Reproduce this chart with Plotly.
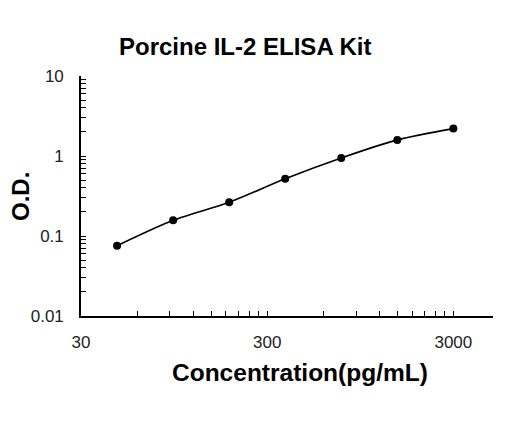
import plotly.graph_objects as go

# standard curve data
conc = [46.875, 93.75, 187.5, 375, 750, 1500, 3000]
od = [0.0755, 0.157, 0.264, 0.519, 0.944, 1.59, 2.20]

x_ticks = [30, 300, 3000]
x_minor = [30 * k for k in range(2, 10)] + [300 * k for k in range(2, 10)]
y_ticks = [0.01, 0.1, 1, 10]
y_minor = [k * 10 ** e for e in (-2, -1, 0) for k in range(2, 10)]

# the page body adds 8px, so the figure is drawn 8px smaller and shifted
OFF = 8
W, H = 520 - OFF, 421 - OFF
ml, mr, mt, mb = 81 - OFF, 27, 76 - OFF, 105
pw, ph = W - ml - mr, H - mt - mb


def px(xp):
    return (xp - OFF - ml) / pw


def py(yp):
    return 1 - (yp - OFF - mt) / ph


fig = go.Figure()
fig.add_trace(go.Scatter(
    x=conc, y=od, mode="lines+markers",
    line=dict(color="black", width=1.6, shape="spline", smoothing=0.8),
    marker=dict(color="black", size=8),
    showlegend=False,
))

axis_font = dict(family="Liberation Sans, Arial", size=17, color="#222")
bold = dict(family="Liberation Sans, Arial", size=24, color="black")

fig.update_xaxes(
    type="log", range=[1.4771, 3.69], automargin=False,
    tickmode="array", tickvals=x_ticks, ticktext=[str(v) for v in x_ticks],
    ticks="inside", ticklen=5, tickwidth=1.3, tickcolor="black",
    minor=dict(tickmode="array", tickvals=x_minor, ticks="inside", ticklen=5,
               tickwidth=1.3, tickcolor="black", showgrid=False),
    showline=True, linecolor="black", linewidth=1.6,
    showgrid=False, zeroline=False,
    tickfont=axis_font, ticklabelstandoff=10,
)
fig.update_yaxes(
    type="log", range=[-2, 1], automargin=False,
    tickmode="array", tickvals=y_ticks, ticktext=["0.01", "0.1", "1", "10"],
    ticks="inside", ticklen=5, tickwidth=1.3, tickcolor="black",
    minor=dict(tickmode="array", tickvals=y_minor, ticks="inside", ticklen=5,
               tickwidth=1.3, tickcolor="black", showgrid=False),
    showline=True, linecolor="black", linewidth=1.6,
    showgrid=False, zeroline=False,
    tickfont=axis_font, ticklabelstandoff=12,
)

fig.update_layout(
    width=W, height=H,
    margin=dict(l=ml, r=mr, t=mt, b=mb, autoexpand=False),
    plot_bgcolor="white", paper_bgcolor="white",
    annotations=[
        dict(text="<b>Porcine IL-2 ELISA Kit</b>", xref="paper", yref="paper",
             x=px(245), y=py(46), xanchor="center", yanchor="middle",
             showarrow=False, font=bold),
        dict(text="<b>Concentration(pg/mL)</b>", xref="paper", yref="paper",
             x=px(300), y=py(372), xanchor="center", yanchor="middle",
             showarrow=False, font=dict(bold, size=24.5)),
        dict(text="<b>O.D.</b>", xref="paper", yref="paper", textangle=-90,
             x=px(20), y=py(197), xanchor="center", yanchor="middle",
             showarrow=False, font=bold),
    ],
)

fig.write_html("out.html")
